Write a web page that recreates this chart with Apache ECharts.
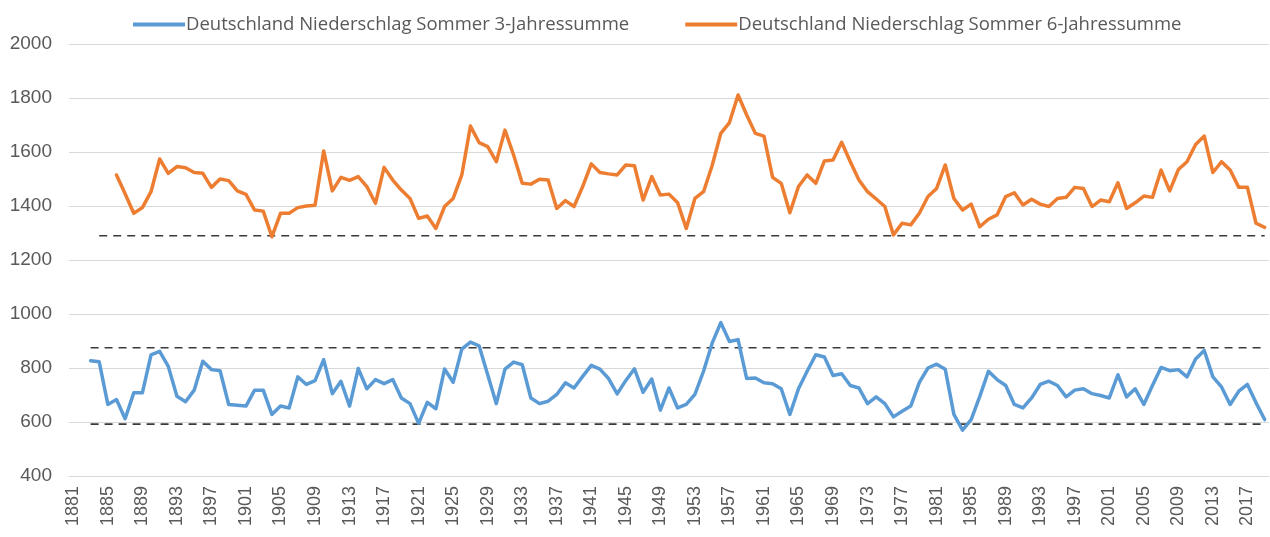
<!DOCTYPE html>
<html>
<head>
<meta charset="utf-8">
<script src="https://cdn.jsdelivr.net/npm/echarts@6/dist/echarts.min.js"></script>
<style>
html,body{margin:0;padding:0;background:#fff;}
#c{width:1270px;height:537px;}
</style>
</head>
<body>
<div id="c"></div>
<script>
// Categories: years 1881..2019
const firstYear = 1881;
const lastYear = 2019;
const years = [];
for (let y = firstYear; y <= lastYear; y++) years.push(String(y));

// 3-year summer precipitation sums, starting 1883
const sum3Start = 1883;
const sum3Values = [
  827, 823, 665, 683, 612, 708, 708,                // 1883-1889
  849, 862, 806, 695, 675, 718, 825, 794, 790, 665, // 1890-1899
  662, 659, 718, 718, 628, 659, 652, 767, 739, 753, // 1900-1909
  831, 705, 751, 659, 798, 723, 757, 742, 757, 689, // 1910-1919
  668, 595, 673, 649, 796, 747, 870, 896, 882, 775, // 1920-1929
  668, 796, 822, 812, 689, 668, 677, 702, 745, 726, // 1930-1939
  769, 810, 796, 761, 704, 754, 797, 710, 759, 644, // 1940-1949
  726, 652, 665, 702, 788, 892, 968, 898, 905, 761, // 1950-1959
  763, 745, 742, 723, 628, 723, 788, 849, 841, 772, // 1960-1969
  779, 735, 726, 668, 693, 668, 619, 640, 659, 747, // 1970-1979
  800, 814, 795, 628, 570, 609, 695, 788, 757, 735, // 1980-1989
  665, 652, 689, 739, 751, 735, 693, 718, 723, 705, // 1990-1999
  698, 689, 775, 693, 723, 665, 735, 802, 790, 794, // 2000-2009
  767, 833, 865, 767, 730, 665, 714, 739, 671, 609  // 2010-2019
];

// 6-year summer precipitation sums, starting 1886
const sum6Start = 1886;
const sum6Values = [
  1515, 1445, 1373, 1394,                                     // 1886-1889
  1453, 1574, 1521, 1546, 1542, 1524, 1521, 1469, 1500, 1494, // 1890-1899
  1456, 1443, 1385, 1381, 1286, 1373, 1373, 1394, 1400, 1403, // 1900-1909
  1604, 1456, 1506, 1495, 1509, 1472, 1410, 1543, 1496, 1459, // 1910-1919
  1428, 1354, 1363, 1317, 1398, 1428, 1515, 1696, 1635, 1620, // 1920-1929
  1564, 1681, 1589, 1484, 1481, 1499, 1496, 1391, 1420, 1398, // 1930-1939
  1472, 1556, 1524, 1519, 1515, 1552, 1549, 1422, 1509, 1441, // 1940-1949
  1444, 1412, 1317, 1428, 1453, 1550, 1669, 1709, 1811, 1737, // 1950-1959
  1669, 1659, 1506, 1484, 1375, 1472, 1515, 1484, 1567, 1570, // 1960-1969
  1636, 1564, 1496, 1453, 1426, 1398, 1293, 1336, 1330, 1373, // 1970-1979
  1435, 1465, 1552, 1428, 1385, 1407, 1323, 1351, 1367, 1435, // 1980-1989
  1449, 1404, 1425, 1407, 1398, 1428, 1432, 1469, 1465, 1398, // 1990-1999
  1422, 1416, 1486, 1391, 1412, 1437, 1432, 1533, 1456, 1535, // 2000-2009
  1564, 1628, 1659, 1524, 1564, 1533, 1469, 1469, 1336, 1321  // 2010-2019
];

// Reference (dashed) levels and the year they start at
const refLevels = [1290, 875, 592];
const refStartYears = [1884, 1883, 1883];

// Y-axis ticks
const yMin = 400, yMax = 2000, yStep = 200;

const seriesNames = [
  'Deutschland Niederschlag Sommer 3-Jahressumme',
  'Deutschland Niederschlag Sommer 6-Jahressumme'
];

function alignToYears(start, values) {
  return years.map(y => {
    const i = Number(y) - start;
    return (i >= 0 && i < values.length) ? values[i] : null;
  });
}
function constantFrom(start, level) {
  return years.map(y => (Number(y) >= start ? level : null));
}

const chart = echarts.init(document.getElementById('c'), null, {renderer: 'canvas'});
const textColor = '#595959';
const series = [
  {
    name: seriesNames[0], type: 'line', data: alignToYears(sum3Start, sum3Values),
    showSymbol: false, symbol: 'none', connectNulls: false,
    lineStyle: {color: '#5b9bd5', width: 3.5, join: 'round', cap: 'round'},
    itemStyle: {color: '#5b9bd5'}, z: 3
  },
  {
    name: seriesNames[1], type: 'line', data: alignToYears(sum6Start, sum6Values),
    showSymbol: false, symbol: 'none',
    lineStyle: {color: '#ed7d31', width: 3.5, join: 'round', cap: 'round'},
    itemStyle: {color: '#ed7d31'}, z: 3
  }
];
refLevels.forEach((lv, k) => {
  series.push({
    name: 'ref' + k, type: 'line', data: constantFrom(refStartYears[k], lv),
    showSymbol: false, symbol: 'none', silent: true,
    lineStyle: {color: '#3a3a3a', width: 1.6, type: [8, 6]}, z: 2
  });
});

chart.setOption({
  animation: false,
  backgroundColor: '#ffffff',
  textStyle: {fontFamily: 'Liberation Sans, Arial, sans-serif'},
  legend: {
    data: seriesNames,
    top: 10, left: 128,
    itemWidth: 52, itemHeight: 4, itemGap: 56,
    icon: 'rect',
    textStyle: {color: textColor, fontSize: 18.5, fontFamily: 'Open Sans', padding: [0, 0, 0, -4]}
  },
  grid: {left: 69, right: 1, top: 44, bottom: 61, containLabel: false},
  xAxis: {
    type: 'category', data: years, boundaryGap: true,
    axisLine: {show: true, lineStyle: {color: '#d9d9d9', width: 1}},
    axisTick: {show: false},
    axisLabel: {interval: 3, rotate: 90, color: textColor, fontSize: 18, margin: 10},
    splitLine: {show: false}
  },
  yAxis: {
    type: 'value', min: yMin, max: yMax, interval: yStep,
    axisLine: {show: false}, axisTick: {show: false},
    axisLabel: {color: textColor, fontSize: 19, margin: 17, formatter: v => String(v)},
    splitLine: {lineStyle: {color: '#d9d9d9', width: 1}}
  },
  series: series
});
</script>
</body>
</html>
